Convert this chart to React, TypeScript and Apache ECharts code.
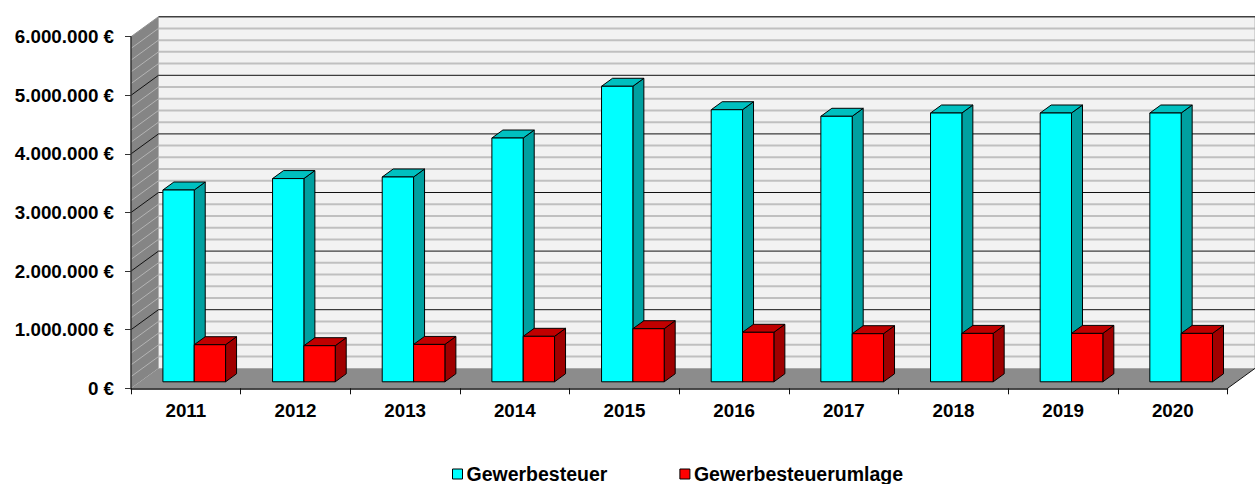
import React, { useEffect, useRef } from "react";
import * as echarts from "echarts";

const categories = ["2011", "2012", "2013", "2014", "2015", "2016", "2017", "2018", "2019", "2020"];
const gewerbesteuer = [3273000, 3468000, 3495000, 4160000, 5043000, 4643000, 4531000, 4587000, 4587000, 4587000];
const umlage = [633000, 616000, 638000, 776000, 906000, 845000, 821000, 826000, 826000, 826000];
const tickLabels = ["0 €", "1.000.000 €", "2.000.000 €", "3.000.000 €", "4.000.000 €", "5.000.000 €", "6.000.000 €"];
const majorTicks = [0, 1000000, 2000000, 3000000, 4000000, 5000000, 6000000];
const minorTicks = [200000, 400000, 600000, 800000, 1200000, 1400000, 1600000, 1800000, 2200000, 2400000, 2600000, 2800000, 3200000, 3400000, 3600000, 3800000, 4200000, 4400000, 4600000, 4800000, 5200000, 5400000, 5600000, 5800000];

const WALL_DX = 27.5;
const WALL_DY = -20;
const BAR_OFF_X = 8.4;
const BAR_OFF_Y = -6.5;
const BAR_DX = 11;
const BAR_DY = -8;

const line = (x1: number, y1: number, x2: number, y2: number, stroke: string, lineWidth: number) => ({
  type: "line",
  shape: { x1, y1, x2, y2 },
  style: { stroke, lineWidth, fill: null },
});
const poly = (points: number[][], fill: string, stroke?: string, lineWidth = 0) => ({
  type: "polygon",
  shape: { points },
  style: { fill, stroke: stroke ?? fill, lineWidth },
});

function renderWalls(_p: any, api: any) {
  const n = categories.length;
  const left = api.coord([0, 0])[0] - api.size([1, 0])[0] / 2;
  const right = left + api.size([1, 0])[0] * n;
  const yOf = (v: number) => api.coord([0, v])[1];
  const y0 = yOf(0);
  const yTop = yOf(6000000);
  const children: any[] = [];
  children.push(poly([[left + WALL_DX, yTop + WALL_DY], [right + WALL_DX, yTop + WALL_DY], [right + WALL_DX, y0 + WALL_DY], [left + WALL_DX, y0 + WALL_DY]], "#f2f2f2"));
  children.push(poly([[left, yTop], [left + WALL_DX, yTop + WALL_DY], [left + WALL_DX, y0 + WALL_DY], [left, y0]], "#858585"));
  minorTicks.forEach((v) => {
    const y = yOf(v);
    children.push(line(left + WALL_DX, y + WALL_DY, right + WALL_DX, y + WALL_DY, "#c0c0c0", 2));
    children.push(line(left, y, left + WALL_DX, y + WALL_DY, "#b4b4b4", 1));
  });
  children.push(poly([[left, y0], [right, y0], [right + WALL_DX, y0 + WALL_DY], [left + WALL_DX, y0 + WALL_DY]], "#8c8c8c"));
  children.push(line(left + WALL_DX, yTop + WALL_DY, left + WALL_DX, y0 + WALL_DY, "#b0b0b0", 1));
  children.push(line(right + WALL_DX, yTop + WALL_DY, right + WALL_DX, y0 + WALL_DY, "#a8a8a8", 1));
  majorTicks.slice(1).forEach((v) => {
    const y = yOf(v);
    const isTop = v === 6000000;
    children.push(line(left + WALL_DX, y + WALL_DY, right + WALL_DX, y + WALL_DY, isTop ? "#404040" : "#111111", isTop ? 1.6 : 1));
    children.push(line(left, y, left + WALL_DX, y + WALL_DY, isTop ? "#909090" : "#111111", 1));
  });
  children.push(line(right, y0, right + WALL_DX, y0 + WALL_DY, "#111111", 1));
  return { type: "group", children };
}

function makeBar(side: number, front: string, top: string, right: string) {
  return (_p: any, api: any) => {
    const p = api.coord([api.value(0), api.value(1)]);
    const base = api.coord([api.value(0), 0]);
    const w = api.size([1, 0])[0] / 3.5;
    const x1 = p[0] + BAR_OFF_X + (side === 0 ? -w : 0);
    const x2 = x1 + w;
    const yT = p[1] + BAR_OFF_Y;
    const yB = base[1] + BAR_OFF_Y;
    const stroke = "#000000";
    return {
      type: "group",
      children: [
        poly([[x2, yT], [x2 + BAR_DX, yT + BAR_DY], [x2 + BAR_DX, yB + BAR_DY], [x2, yB]], right, stroke, 1),
        poly([[x1, yT], [x1 + BAR_DX, yT + BAR_DY], [x2 + BAR_DX, yT + BAR_DY], [x2, yT]], top, stroke, 1),
        poly([[x1, yT], [x2, yT], [x2, yB], [x1, yB]], front, stroke, 1),
      ],
    };
  };
}

const fontStyle = { fontFamily: "Liberation Sans", fontWeight: "bold" as const, color: "#000000" };

export default function App() {
  const ref = useRef<HTMLDivElement>(null);
  useEffect(() => {
    const chart = echarts.init(ref.current!, undefined, { renderer: "svg" });
    chart.setOption({
      animation: false,
      backgroundColor: "#ffffff",
      grid: { left: 131, right: 27.4, top: 36.7, bottom: 95.7, containLabel: false },
      xAxis: {
        type: "category",
        data: categories,
        z: 5,
        axisLine: { show: true, lineStyle: { color: "#111111", width: 1.5 } },
        axisTick: { show: true, alignWithLabel: false, length: 6, lineStyle: { color: "#111111", width: 1 } },
        axisLabel: { ...fontStyle, fontSize: 18.8, margin: 13, interval: 0 },
        splitLine: { show: false },
      },
      yAxis: {
        type: "value",
        min: 0,
        max: 6000000,
        interval: 1000000,
        z: 5,
        axisLine: { show: true, lineStyle: { color: "#333333", width: 1.5 } },
        axisTick: { show: true, length: 6, lineStyle: { color: "#333333", width: 1 } },
        axisLabel: { ...fontStyle, fontSize: 18.8, margin: 17, formatter: (v: number) => tickLabels[Math.round(v / 1000000)] },
        splitLine: { show: false },
      },
      legend: {
        left: 452,
        top: 464,
        padding: 0,
        itemWidth: 10,
        itemHeight: 10,
        itemGap: 72,
        textStyle: { ...fontStyle, fontSize: 19.5, lineHeight: 20, padding: [0, 0, 0, -1] },
        data: [
          { name: "Gewerbesteuer", icon: "rect", itemStyle: { color: "#00ffff", borderColor: "#000", borderWidth: 1 } },
          { name: "Gewerbesteuerumlage", icon: "rect", itemStyle: { color: "#ff0000", borderColor: "#000", borderWidth: 1 } },
        ],
      },
      series: [
        { type: "custom", name: "walls", z: 1, silent: true, renderItem: renderWalls, data: [[0, 0]], encode: { x: 0, y: 1 } },
        {
          type: "custom", name: "Gewerbesteuer", z: 2, itemStyle: { color: "#00ffff" },
          renderItem: makeBar(0, "#00ffff", "#00c0c0", "#00a0a0"),
          data: gewerbesteuer.map((v, i) => [i, v]), encode: { x: 0, y: 1 },
        },
        {
          type: "custom", name: "Gewerbesteuerumlage", z: 3, itemStyle: { color: "#ff0000" },
          renderItem: makeBar(1, "#ff0000", "#c00000", "#a00000"),
          data: umlage.map((v, i) => [i, v]), encode: { x: 0, y: 1 },
        },
      ],
    });
    return () => chart.dispose();
  }, []);
  return <div ref={ref} style={{ position: "absolute", left: 0, top: 0, width: 1255, height: 484 }} />;
}
